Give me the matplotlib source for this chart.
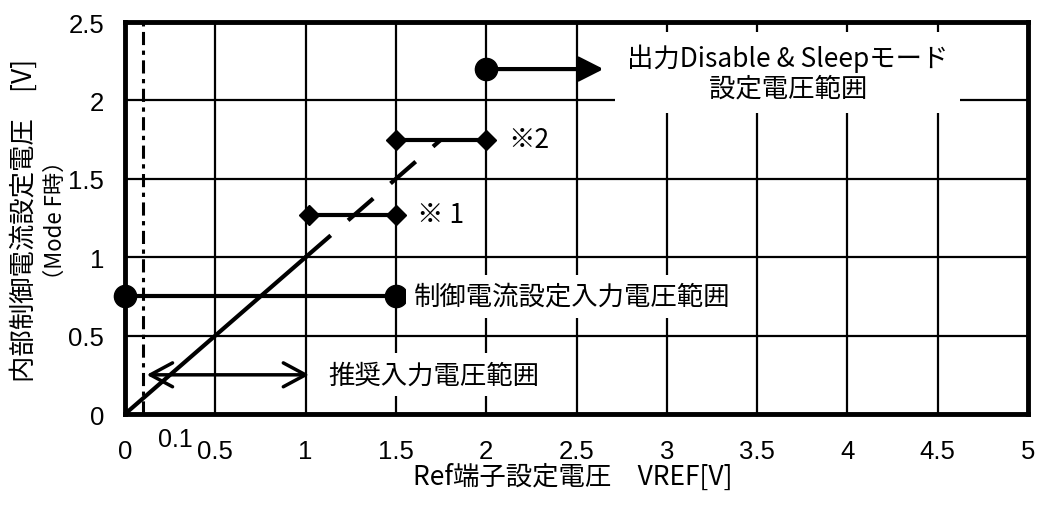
import matplotlib.pyplot as plt
from matplotlib.ticker import FixedLocator

plt.rcParams['font.family'] = ['Noto Sans CJK JP', 'DejaVu Sans']
tick_font = ['Liberation Sans Narrow', 'Liberation Sans', 'DejaVu Sans']

# characteristic VREF -> internal voltage (solid, then dashed)
line_x = [0, 1.0]
line_y = [0, 1.0]
dash_x = [1.0, 1.75]
dash_y = [1.0, 1.75]

# control current setting input range
ctrl_x = [0, 1.5]
ctrl_y = [0.75, 0.75]

# note 1 / note 2 ranges
note1_x = [1.02, 1.5]
note1_y = [1.27, 1.27]
note2_x = [1.5, 2.0]
note2_y = [1.75, 1.75]

# output disable & sleep range
sleep_x = [2.0, 2.65]
sleep_y = 2.2

# recommended input range
rec_x = [0.12, 1.02]
rec_y = 0.25

vmin = 0.1

xticks = [0, 0.5, 1, 1.5, 2, 2.5, 3, 3.5, 4, 4.5, 5]
xlabels = ['0', '0.5', '1', '1.5', '2', '2.5', '3', '3.5', '4', '4.5', '5']
yticks = [0, 0.5, 1, 1.5, 2, 2.5]
ylabels = ['0', '0.5', '1', '1.5', '2', '2.5']

fig = plt.figure(figsize=(10.38, 5.06), dpi=100)
ax = fig.add_axes([0.1204, 0.1798, 0.870, 0.7747])
ax.set_xlim(0, 5)
ax.set_ylim(0, 2.5)
ax.xaxis.set_major_locator(FixedLocator(xticks))
ax.yaxis.set_major_locator(FixedLocator(yticks))
ax.set_xticklabels(xlabels, family=tick_font, fontsize=18.5)
ax.set_yticklabels(ylabels, family=tick_font, fontsize=18.5)
ax.tick_params(axis='x', length=0, pad=18)
ax.tick_params(axis='y', length=0, pad=15)
ax.grid(True, color='black', lw=1.6)
ax.set_axisbelow(True)
for s in ax.spines.values():
    s.set_linewidth(3.5)
    s.set_zorder(5)

# min voltage line
ax.axvline(vmin, color='black', lw=2.2, ls=(0, (4.3, 1.8, 1.4, 1.8)), zorder=3)

ax.plot(line_x, line_y, color='black', lw=3, zorder=3)
ax.plot(dash_x, dash_y, color='black', lw=3, ls=(0, (8, 5.5)), zorder=3)

ax.plot(ctrl_x, ctrl_y, color='black', lw=3, marker='o', ms=16, zorder=4, clip_on=False)
ax.plot(note1_x, note1_y, color='black', lw=3, marker='D', ms=10.5, zorder=4)
ax.plot(note2_x, note2_y, color='black', lw=3, marker='D', ms=10.5, zorder=4)

ax.plot([sleep_x[0]], [sleep_y], color='black', marker='o', ms=16, zorder=4)
ax.annotate('', xy=(sleep_x[1], sleep_y), xytext=(sleep_x[0], sleep_y),
            arrowprops=dict(arrowstyle='-|>,head_length=0.75,head_width=0.38',
                            mutation_scale=20, lw=3, color='black',
                            shrinkA=0, shrinkB=0), zorder=4)

ax.annotate('', xy=(rec_x[1], rec_y), xytext=(rec_x[0], rec_y),
            arrowprops=dict(arrowstyle='<->,head_length=0.8,head_width=0.43',
                            mutation_scale=20, lw=2.5, color='black',
                            shrinkA=0, shrinkB=0), zorder=4)

white = dict(boxstyle='square,pad=0.3', fc='white', ec='none')
ax.annotate('推奨入力電圧範囲', xy=(rec_x[1], rec_y), xytext=(14, 0),
            textcoords='offset points', ha='left', va='center',
            fontsize=19, bbox=white, zorder=4)
ax.annotate('制御電流設定入力電圧範囲', xy=(ctrl_x[1], ctrl_y[1]), xytext=(13, 0),
            textcoords='offset points', ha='left', va='center',
            fontsize=19, bbox=white, zorder=4)
ax.annotate('※ 1', xy=(note1_x[1], note1_y[1]), xytext=(15, 0),
            textcoords='offset points', ha='left', va='center',
            fontsize=19, zorder=4)
ax.annotate('※2', xy=(note2_x[1], note2_y[1]), xytext=(16, 0),
            textcoords='offset points', ha='left', va='center',
            fontsize=19, zorder=4)
ax.text(3.67, 2.18, '出力Disable & Sleepモード\n設定電圧範囲', ha='center', va='center',
        fontsize=19, linespacing=1.1,
        bbox=dict(boxstyle='square,pad=0.45', fc='white', ec='none'), zorder=4)

ax.annotate('0.1', xy=(vmin, 0), xytext=(11, -9), textcoords='offset points',
            ha='left', va='top', family=tick_font, fontsize=18, annotation_clip=False)

fig.text(0.5515, 1 - 477 / 506, 'Ref端子設定電圧　VREF[V]', ha='center', va='center',
         fontsize=19)
fig.text(24 / 1038, 1 - 220 / 506, '内部制御電流設定電圧　[V]', rotation=90,
         ha='center', va='center', fontsize=19)
fig.text(55 / 1038, 1 - 220 / 506, '（Mode F時）', rotation=90,
         ha='center', va='center', fontsize=16)

fig.savefig('out.png', dpi=100)
